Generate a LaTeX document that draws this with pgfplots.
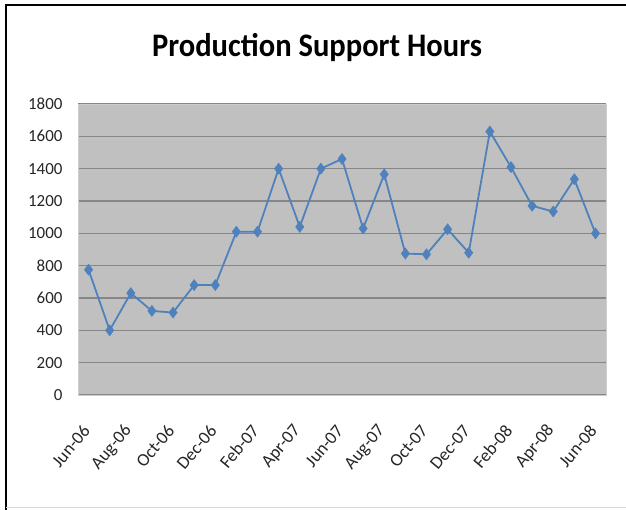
\documentclass[border=0pt]{standalone}
\usepackage{fontspec}
\setmainfont{Carlito}
\usepackage{pgfplots}
\pgfplotsset{compat=1.18}
\definecolor{bgray}{HTML}{C0C0C0}
\definecolor{gline}{HTML}{868686}
\definecolor{lblue}{HTML}{4F81BD}
\begin{document}
\begin{tikzpicture}
\path[use as bounding box] (0,0) rectangle (626bp,510bp);
\fill[white] (0,0) rectangle (626bp,510bp);
\draw[line width=2.5bp,black] (6bp,0) -- (6bp,505bp) -- (626bp,505bp);
\draw[line width=1bp,black!15] (6bp,2bp) -- (626bp,2bp);
\node[anchor=base,font=\fontsize{33}{36}\selectfont\bfseries] at (317bp,453bp) {\scalebox{0.93}[1]{Production Support Hours}};
\begin{axis}[
  at={(78bp,115bp)}, anchor=south west,
  scale only axis, width=528bp, height=291bp,
  xmin=-0.5, xmax=24.5, ymin=0, ymax=1800,
  axis background/.style={fill=bgray},
  axis line style={draw=bgray!80!white},
  ymajorgrids, grid style={gline, line width=1.3bp},
  major tick length=0pt,
  ytick={0,200,...,1800},
  xtick={0,2,...,24},
  xticklabels={Jun-06,Aug-06,Oct-06,Dec-06,Feb-07,Apr-07,Jun-07,Aug-07,Oct-07,Dec-07,Feb-08,Apr-08,Jun-08},
  yticklabel style={font=\fontsize{17}{19}\selectfont, text=black!85, anchor=east, xshift=-12bp},
  xticklabel style={font=\fontsize{18}{20}\selectfont, text=black!85, rotate=50, anchor=east},
  xticklabel shift=30bp,
  /pgf/number format/assume math mode=true,
  /pgf/number format/1000 sep={},
  clip=false,
]
\addplot[color=lblue, line width=1.8bp, mark=diamond*, mark size=4.5bp, mark options={fill=lblue, draw=lblue}]
coordinates {
(0,775) (1,400) (2,630) (3,520) (4,510) (5,680) (6,680) (7,1010) (8,1010)
(9,1400) (10,1040) (11,1400) (12,1460) (13,1030) (14,1365) (15,875)
(16,870) (17,1025) (18,880) (19,1630) (20,1410) (21,1170) (22,1135)
(23,1335) (24,1000)
};
\end{axis}
\end{tikzpicture}
\end{document}
